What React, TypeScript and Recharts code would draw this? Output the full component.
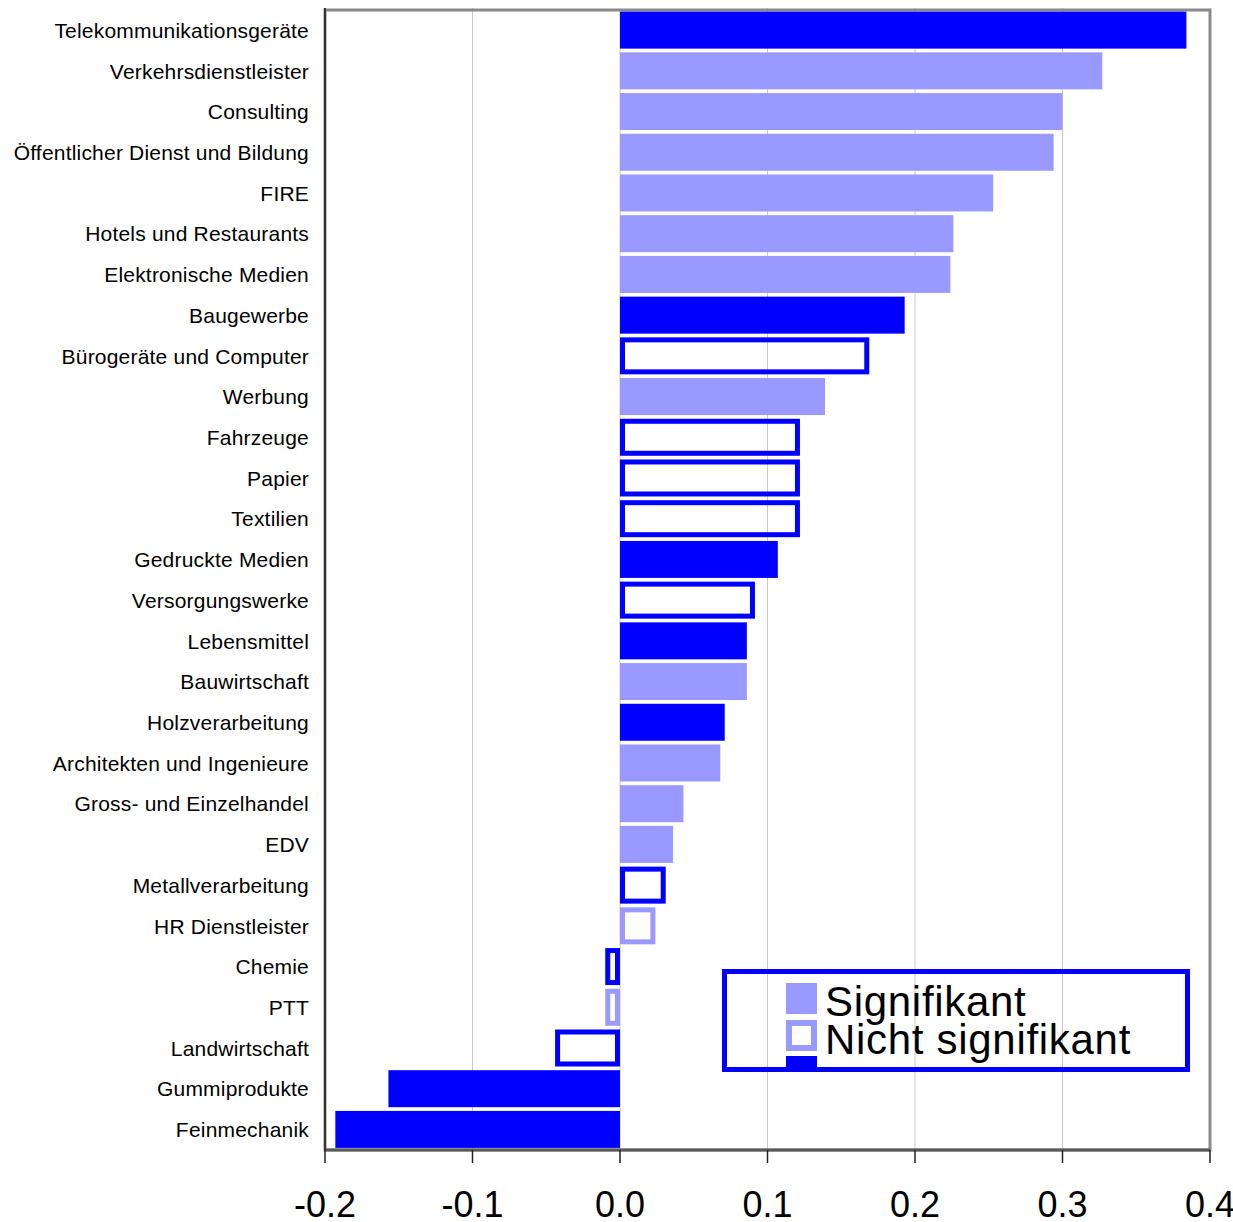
import React from "react";
import {
  BarChart,
  Bar,
  XAxis,
  YAxis,
  CartesianGrid,
  ReferenceArea,
} from "recharts";

// Branchen von oben nach unten
const kategorien = [
  "Telekommunikationsgeräte",
  "Verkehrsdienstleister",
  "Consulting",
  "Öffentlicher Dienst und Bildung",
  "FIRE",
  "Hotels und Restaurants",
  "Elektronische Medien",
  "Baugewerbe",
  "Bürogeräte und Computer",
  "Werbung",
  "Fahrzeuge",
  "Papier",
  "Textilien",
  "Gedruckte Medien",
  "Versorgungswerke",
  "Lebensmittel",
  "Bauwirtschaft",
  "Holzverarbeitung",
  "Architekten und Ingenieure",
  "Gross- und Einzelhandel",
  "EDV",
  "Metallverarbeitung",
  "HR Dienstleister",
  "Chemie",
  "PTT",
  "Landwirtschaft",
  "Gummiprodukte",
  "Feinmechanik",
];

const werte = [
  0.384, 0.327, 0.3, 0.294, 0.253, 0.226, 0.224, 0.193, 0.169, 0.139, 0.122,
  0.122, 0.122, 0.107, 0.0915, 0.086, 0.086, 0.071, 0.068, 0.043, 0.036, 0.031,
  0.024, -0.010, -0.010, -0.044, -0.157, -0.193,
];

// gefüllt = signifikant, Rahmen = nicht signifikant
const signifikant = [
  true, true, true, true, true, true, true, true, false, true, false, false,
  false, true, false, true, true, true, true, true, true, false, false, false,
  false, false, true, true,
];

// dunkelblau hervorgehoben
const dunkel = [
  true, false, false, false, false, false, false, true, true, false, true, true,
  true, true, true, true, false, true, false, false, false, true, false, true,
  false, true, true, true,
];

const xTicks = [-0.2, -0.1, 0, 0.1, 0.2, 0.3, 0.4];

const legende = [
  { label: "Signifikant", gefuellt: true, dunkel: false },
  { label: "Nicht signifikant", gefuellt: false, dunkel: false },
  { label: "", gefuellt: true, dunkel: true },
];

const DUNKEL = "#0000FF";
const HELL = "#9999FF";
const FONT = '"Liberation Sans", Arial, sans-serif';

const daten = kategorien.map((name, i) => ({
  name,
  wert: werte[i],
  signifikant: signifikant[i],
  dunkel: dunkel[i],
}));

const RAND = 5;

const BalkenForm = (props: any) => {
  const { x, y, width, height, payload } = props;
  const x0 = Math.min(x, x + width);
  const w = Math.abs(width);
  const farbe = payload.dunkel ? DUNKEL : HELL;
  if (payload.signifikant) {
    return <rect x={x0} y={y} width={w} height={height} fill={farbe} />;
  }
  return (
    <rect
      x={x0 + RAND / 2}
      y={y + RAND / 2}
      width={Math.max(w - RAND, 1)}
      height={height - RAND}
      fill="none"
      stroke={farbe}
      strokeWidth={RAND}
    />
  );
};

export default function App() {
  return (
    <div
      style={{
        position: "absolute",
        left: 0,
        top: 0,
        width: 1233,
        height: 1222,
        fontFamily: FONT,
        background: "#fff",
      }}
    >
      <BarChart
        width={1233}
        height={1222}
        data={daten}
        layout="vertical"
        margin={{ top: 8, right: 23, bottom: 0, left: 0 }}
        barCategoryGap="4%"
      >
        <CartesianGrid horizontal={false} stroke="#c8c8c8" strokeWidth={1} />
        <XAxis
          type="number"
          domain={[-0.2, 0.4]}
          ticks={xTicks}
          interval={0}
          allowDataOverflow
          height={72}
          tickFormatter={(v: number) => v.toFixed(1)}
          tick={{ fontSize: 36, fill: "#000", fontFamily: FONT }}
          tickSize={13}
          tickMargin={28}
          tickLine={{ stroke: "#222", strokeWidth: 1.5 }}
          axisLine={{ stroke: "#5a5a5a", strokeWidth: 3 }}
        />
        <YAxis
          type="category"
          dataKey="name"
          width={325}
          interval={0}
          padding={{ top: 2, bottom: 0 }}
          tickSize={0}
          tickMargin={16}
          tickLine={false}
          tick={{ fontSize: 21, fill: "#000", fontFamily: FONT, letterSpacing: 0.2 }}
          axisLine={{ stroke: "#333", strokeWidth: 2 }}
        />
        <Bar dataKey="wert" isAnimationActive={false} shape={BalkenForm} />
        <ReferenceArea
          x1={-0.2}
          x2={0.4}
          fill="none"
          stroke="#8a8a8a"
          strokeWidth={3}
        />
      </BarChart>

      {/* Legende */}
      <div
        style={{
          position: "absolute",
          left: 722,
          top: 969,
          width: 468,
          height: 103,
          border: `5px solid ${DUNKEL}`,
          boxSizing: "border-box",
          overflow: "hidden",
        }}
      >
        {legende.map((e, i) => (
          <React.Fragment key={i}>
            <div
              style={{
                position: "absolute",
                left: 59,
                top: 9 + i * 36.5,
                width: 31,
                height: 31,
                boxSizing: "border-box",
                background: e.gefuellt ? (e.dunkel ? DUNKEL : HELL) : "none",
                border: e.gefuellt ? "none" : `6px solid ${e.dunkel ? DUNKEL : HELL}`,
              }}
            />
            {e.label && (
              <div
                style={{
                  position: "absolute",
                  left: 98,
                  top: 7 + i * 38,
                  fontSize: 42,
                  letterSpacing: 0.7,
                  lineHeight: "41px",
                  whiteSpace: "nowrap",
                  color: "#000",
                }}
              >
                {e.label}
              </div>
            )}
          </React.Fragment>
        ))}
      </div>
    </div>
  );
}
